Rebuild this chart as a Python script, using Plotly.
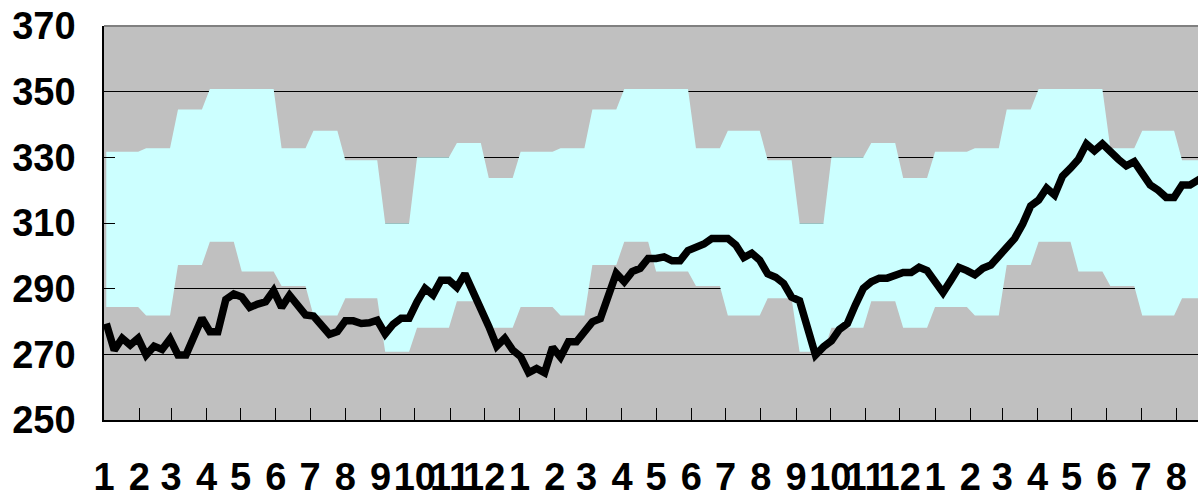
import pandas as pd
import plotly.graph_objects as go

# Weekly price series (first observation 2009-01-03, one value per week)
first_week = "2009-01-03"
price = [
    279.4, 271.3, 274.9, 272.8, 274.9, 269.8, 272.5, 271.5, 274.7, 269.8,
    269.8, 274.9, 281.0, 276.9, 276.9, 286.7, 288.4, 287.5, 284.3, 285.3,
    286.0, 289.4, 284.3, 288.0, 285.0, 282.0, 281.7, 278.9, 276.1, 276.9,
    280.2, 280.2, 279.4, 279.6, 280.4, 276.2, 279.2, 281.0, 281.0, 286.0,
    290.1, 288.1, 292.6, 292.6, 290.4, 294.5, 289.5, 284.5, 278.5, 272.5,
    274.9, 271.3, 269.3, 264.4, 265.7, 264.4, 272.1, 269.1, 273.8, 273.8,
    276.6, 279.9, 280.9, 288.6, 294.7, 292.1, 295.2, 296.2, 299.2, 299.2,
    299.7, 298.5, 298.5, 301.6, 302.6, 303.6, 305.3, 305.3, 305.3, 303.3,
    299.5, 300.8, 298.7, 294.5, 293.5, 291.6, 287.4, 286.3, 278.9, 269.8,
    272.3, 274.1, 277.6, 279.4, 285.0, 290.1, 292.1, 293.2, 293.2, 294.2,
    294.9, 294.9, 296.5, 295.5, 291.8, 288.8, 292.6, 296.5, 295.5, 294.2,
    296.2, 297.2, 299.9, 302.6, 305.3, 309.7, 315.2, 317.0, 320.6, 318.5,
    324.3, 326.7, 329.4, 334.1, 332.0, 334.1, 331.4, 329.4, 327.4, 328.7,
    325.1, 321.6, 320.0, 317.8, 317.8, 321.6, 321.6, 323.3, 324.5,
]

# Normal range by calendar month (Jan..Dec)
normal_upper = [331.7, 332.8, 344.6, 350.8, 350.8, 332.8, 338.1, 329.1, 309.9, 330.0, 334.4, 323.7]
normal_lower = [284.4, 281.8, 297.2, 304.3, 295.2, 290.8, 281.8, 287.1, 270.8, 278.1, 286.2, 278.1]

# Axis settings
y_ticks = [250, 270, 290, 310, 330, 350, 370]
x_start, x_end = "2009-01-01", "2011-08-20"

dates = pd.date_range(first_week, periods=len(price), freq="7D")
upper = [normal_upper[d.month - 1] for d in dates]
lower = [normal_lower[d.month - 1] for d in dates]

month_starts = pd.date_range(x_start, x_end, freq="MS")
month_labels = [str(d.month) for d in month_starts]

GRAY = "#C0C0C0"
CYAN = "#CCFFFF"

fig = go.Figure()
fig.add_trace(go.Scatter(
    x=dates, y=lower, mode="lines", line=dict(width=0, color=CYAN),
    hoverinfo="skip", showlegend=False,
))
fig.add_trace(go.Scatter(
    x=dates, y=upper, mode="lines", line=dict(width=0, color=CYAN),
    fill="tonexty", fillcolor=CYAN, hoverinfo="skip", showlegend=False,
))
fig.add_trace(go.Scatter(
    x=dates, y=price, mode="lines",
    line=dict(color="black", width=7.5),
    showlegend=False,
))

tick_font = dict(family="Liberation Sans, Arial, sans-serif", size=38, color="black", weight=700)

fig.update_layout(
    width=1198, height=493,
    margin=dict(l=104, r=0, t=26, b=73),
    paper_bgcolor="white",
    plot_bgcolor=GRAY,
    xaxis=dict(
        type="date", range=[x_start, x_end], automargin=False,
        tickmode="array", tickvals=month_starts, ticktext=month_labels,
        tickangle=0, ticks="inside", ticklen=12, tickwidth=1, tickcolor="black",
        showgrid=False, showline=True, linecolor="black", linewidth=1.5,
        tickfont=tick_font, ticklabelstandoff=23,
    ),
    yaxis=dict(
        range=[250, 370], tickmode="array", tickvals=y_ticks, automargin=False,
        ticks="inside", ticklen=11, tickwidth=1, tickcolor="black",
        showgrid=True, gridcolor="black", gridwidth=1,
        showline=True, linecolor="black", linewidth=1.5,
        tickfont=tick_font, ticklabelstandoff=19,
    ),
    shapes=[dict(
        type="line", xref="paper", yref="paper", x0=0, x1=1, y0=1, y1=1,
        line=dict(color="#808080", width=2), layer="above",
    )],
)

fig.write_html("out.html")
